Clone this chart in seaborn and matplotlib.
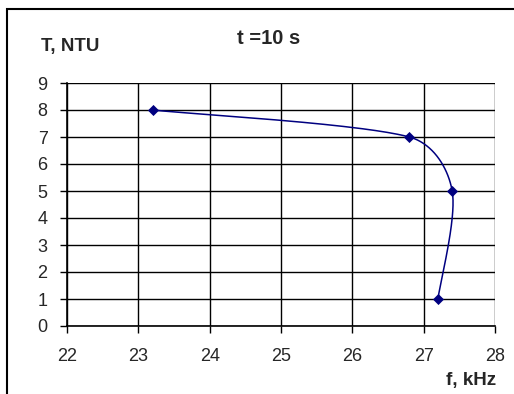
import numpy as np
import pandas as pd
import matplotlib
matplotlib.use("Agg")
import matplotlib.pyplot as plt
import seaborn as sns
from matplotlib.patches import Rectangle

# Measured turbidity against frequency
freq_khz = [23.2, 26.8, 27.4, 27.2]
turbidity_ntu = [8, 7, 5, 1]
x_ticks = [22, 23, 24, 25, 26, 27, 28]
y_ticks = [0, 1, 2, 3, 4, 5, 6, 7, 8, 9]

sns.set_theme(style="white")
plt.rcParams["font.family"] = ["Liberation Sans", "DejaVu Sans"]

W, H = 514, 394
fig = plt.figure(figsize=(W / 100, H / 100), dpi=100)
ax = fig.add_axes([67 / W, 1 - 326 / H, (495 - 67) / W, (326 - 83) / H])
ax.set_xlim(22, 28)
ax.set_ylim(0, 9)


def smooth_curve(xs, ys, sx, sy, cap=0.35, n=60):
    """Cubic Bezier smoothing through the points. Handles follow the neighbour
    chord (1/6 of it) but are limited to a fraction of the adjoining segment,
    computed in screen-proportional units."""
    P = np.column_stack([np.asarray(xs) * sx, np.asarray(ys) * sy])

    def limit(v, seg):
        L = np.linalg.norm(v)
        m = cap * seg
        return v * (m / L) if L > m and L > 0 else v

    out = []
    for i in range(len(P) - 1):
        p0 = P[i - 1] if i > 0 else P[i]
        p1, p2 = P[i], P[i + 1]
        p3 = P[i + 2] if i + 2 < len(P) else P[i + 1]
        seg = np.linalg.norm(p2 - p1)
        c1 = p1 + limit((p2 - p0) / 6, seg)
        c2 = p2 - limit((p3 - p1) / 6, seg)
        t = np.linspace(0, 1, n)[:, None]
        b = ((1 - t) ** 3) * p1 + 3 * ((1 - t) ** 2) * t * c1 + 3 * (1 - t) * t ** 2 * c2 + t ** 3 * p2
        out.append(b if i == 0 else b[1:])
    pts = np.vstack(out)
    return pts[:, 0] / sx, pts[:, 1] / sy


cx, cy = smooth_curve(freq_khz, turbidity_ntu, 71.3, 27.0)
curve = pd.DataFrame({"f": cx, "T": cy})
points = pd.DataFrame({"f": freq_khz, "T": turbidity_ntu})

sns.lineplot(data=curve, x="f", y="T", sort=False, color="#000080", lw=1.1, ax=ax, zorder=3)
sns.scatterplot(data=points, x="f", y="T", marker="D", s=32, color="#000080",
                edgecolor="#000080", linewidth=0, ax=ax, zorder=4)

ax.set_xticks(x_ticks)
ax.set_yticks(y_ticks)
ax.set_xticklabels([str(v) for v in x_ticks], fontsize=13)
ax.set_yticklabels([str(v) for v in y_ticks], fontsize=13)
ax.tick_params(axis="x", direction="out", length=5, width=1, color="black",
               bottom=True, pad=11)
ax.tick_params(axis="y", direction="out", length=5, width=1, color="black",
               left=True, pad=9)
ax.grid(True, color="black", lw=1)
ax.set_axisbelow(True)
for s in ["top", "right"]:
    ax.spines[s].set_visible(False)
for s in ["left", "bottom"]:
    ax.spines[s].set_color("black")
    ax.spines[s].set_linewidth(1.2)
ax.set_xlabel("")
ax.set_ylabel("")

fig.text(269 / W, 1 - 39 / H, "t =10 s", fontsize=14.5, fontweight="bold",
         ha="center", va="center")
fig.text(41 / W, 1 - 46 / H, "T, NTU", fontsize=13.5, fontweight="bold",
         ha="left", va="center")
fig.text(496 / W, 1 - 381 / H, "f, kHz", fontsize=13.5, fontweight="bold",
         ha="right", va="center")

fig.patches.append(Rectangle((7 / W, -0.05), 1.1, 1 - 9 / H + 0.05,
                             transform=fig.transFigure, fill=False,
                             edgecolor="black", lw=1.5))

fig.savefig("out.png", dpi=100)
